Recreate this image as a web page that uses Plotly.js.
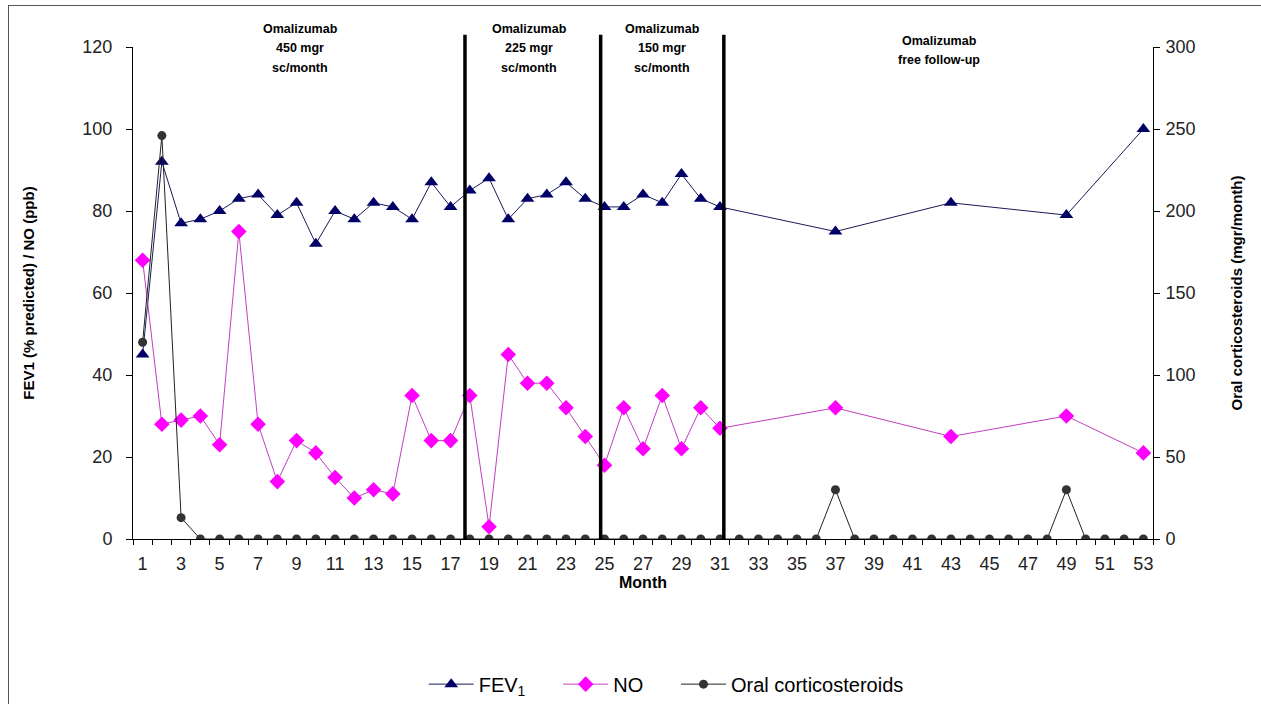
<!DOCTYPE html>
<html>
<head>
<meta charset="utf-8">
<script src="https://cdn.plot.ly/plotly-3.0.1.min.js"></script>
<style>
  html, body { margin: 0; padding: 0; background: #ffffff; overflow: hidden; }
  #frame { position: absolute; left: 8px; top: 5px; width: 1300px; height: 800px;
           border-left: 1px solid #555; border-top: 1px solid #555; pointer-events: none; }
  #chart { position: absolute; left: 0; top: 0; width: 1261px; height: 704px; }
</style>
</head>
<body>
<div id="chart"></div>
<div id="frame"></div>
<script>
// Months with FEV1 and exhaled NO measurements
const measuredMonths = [1, 2, 3, 4, 5, 6, 7, 8, 9, 10, 11, 12, 13, 14, 15, 16, 17, 18, 19, 20,
  21, 22, 23, 24, 25, 26, 27, 28, 29, 30, 31, 37, 43, 49, 53];
// FEV1 (% predicted)
const fev1 = [45, 92, 77, 78, 80, 83, 84, 79, 82, 72, 80, 78, 82, 81, 78, 87, 81, 85, 88, 78,
  83, 84, 87, 83, 81, 81, 84, 82, 89, 83, 81, 75, 82, 79, 100];
// Exhaled NO (ppb)
const no = [68, 28, 29, 30, 23, 75, 28, 14, 24, 21, 15, 10, 12, 11, 35, 24, 24, 35, 3, 45,
  38, 38, 32, 25, 18, 32, 22, 35, 22, 32, 27, 32, 25, 30, 21];
// Oral corticosteroids (mgr/month), recorded every month
const allMonths = [1, 2, 3, 4, 5, 6, 7, 8, 9, 10, 11, 12, 13, 14, 15, 16, 17, 18, 19, 20,
  21, 22, 23, 24, 25, 26, 27, 28, 29, 30, 31, 32, 33, 34, 35, 36, 37, 38, 39, 40,
  41, 42, 43, 44, 45, 46, 47, 48, 49, 50, 51, 52, 53];
const steroids = [120, 246, 13, 0, 0, 0, 0, 0, 0, 0, 0, 0, 0, 0, 0, 0, 0, 0, 0, 0,
  0, 0, 0, 0, 0, 0, 0, 0, 0, 0, 0, 0, 0, 0, 0, 0, 30, 0, 0, 0,
  0, 0, 0, 0, 0, 0, 0, 0, 30, 0, 0, 0, 0];
// Labelled months on the category axis
const monthTicks = [1, 3, 5, 7, 9, 11, 13, 15, 17, 19, 21, 23, 25, 27, 29, 31, 33, 35, 37, 39,
  41, 43, 45, 47, 49, 51, 53];
// Treatment phase boundaries (month) and phase captions
const phaseBounds = [17.75, 24.8, 31.2];
const phaseCenters = [9.2, 21.1, 28.0, 42.4];
const phaseLines = [
  ["Omalizumab", "450 mgr", "sc/month"],
  ["Omalizumab", "225 mgr", "sc/month"],
  ["Omalizumab", "150 mgr", "sc/month"],
  ["Omalizumab", "free follow-up"]
];

// wider gap between legend entries
const gap = "\u00A0\u00A0\u00A0\u00A0\u00A0";

const traces = [
  {
    x: measuredMonths, y: fev1, name: "FEV<sub>1</sub>" + gap, type: "scatter", mode: "lines+markers",
    line: { color: "#1a1a5c", width: 1 },
    marker: { symbol: "triangle-up", size: 12, color: "#000066" },
    yaxis: "y"
  },
  {
    x: measuredMonths, y: no, name: "NO" + gap, type: "scatter", mode: "lines+markers",
    line: { color: "#c040c0", width: 1 },
    marker: { symbol: "diamond", size: 12, color: "#ff00ff" },
    yaxis: "y"
  },
  {
    x: allMonths, y: steroids, name: "Oral corticosteroids", type: "scatter", mode: "lines+markers",
    line: { color: "#222222", width: 1 },
    marker: { symbol: "circle", size: 9, color: "#333333" },
    yaxis: "y2"
  }
];

const shapes = phaseBounds.map(b => ({
  type: "line", xref: "x", yref: "paper", x0: b, x1: b, y0: 0, y1: 1.025,
  line: { color: "#000000", width: 3.5 }
}));

const annotations = [];
phaseLines.forEach((lines, i) => {
  const top = i === 3 ? 1.012 : 1.036;
  lines.forEach((t, j) => {
    annotations.push({
      xref: "x", yref: "paper", x: phaseCenters[i], y: top - j * 0.039,
      xanchor: "center", yanchor: "middle", showarrow: false,
      text: "<b>" + t + "</b>",
      font: { family: "Liberation Sans, Arial, sans-serif", size: 12.5, color: "#000000" }
    });
  });
});

const axisFont = { family: "Liberation Sans, Arial, sans-serif", size: 18, color: "#222222" };
const titleFont = { family: "Liberation Sans, Arial, sans-serif", size: 15, color: "#000000" };

const layout = {
  width: 1261, height: 704,
  margin: { l: 133, r: 108, t: 47, b: 165, autoexpand: false },
  paper_bgcolor: "rgba(0,0,0,0)", plot_bgcolor: "rgba(0,0,0,0)",
  showlegend: true,
  legend: {
    orientation: "h", x: 0.285, xanchor: "left", y: -0.295, yanchor: "middle",
    font: { family: "Liberation Sans, Arial, sans-serif", size: 20, color: "#000000" },
    itemwidth: 45, tracegroupgap: 0
  },
  xaxis: {
    range: [0.5, 53.5], tickmode: "array", tickvals: monthTicks, ticktext: monthTicks.map(String),
    ticks: "", showgrid: false, zeroline: false, showline: true, linecolor: "#000", linewidth: 1,
    tickfont: axisFont, ticklabelstandoff: 8, fixedrange: true, automargin: false,
    minor: { tick0: 0.5, dtick: 1, ticks: "outside", ticklen: 5, tickcolor: "#000", showgrid: false },
    title: { text: "<b>Month</b>", font: { family: "Liberation Sans, Arial, sans-serif", size: 16, color: "#000" }, standoff: 3 }
  },
  yaxis: {
    range: [0, 120], dtick: 20, ticks: "outside", ticklen: 6, tickcolor: "#000",
    showgrid: false, zeroline: false, showline: true, linecolor: "#000", linewidth: 1,
    tickfont: axisFont, ticklabelstandoff: 10, fixedrange: true, automargin: false,
    title: { text: "<b>FEV1 (% predicted) / NO (ppb)</b>", font: titleFont, standoff: 44 }
  },
  yaxis2: {
    range: [0, 300], dtick: 50, overlaying: "y", side: "right", ticks: "outside", ticklen: 6,
    tickcolor: "#000", showgrid: false, zeroline: false, showline: true, linecolor: "#000",
    linewidth: 1, tickfont: axisFont, ticklabelstandoff: 2, fixedrange: true, automargin: false,
    title: { text: "<b>Oral corticosteroids (mgr/month)</b>", font: titleFont, standoff: 36 }
  },
  shapes: shapes,
  annotations: annotations
};

Plotly.newPlot("chart", traces, layout, { displayModeBar: false, staticPlot: true });
</script>
</body>
</html>
